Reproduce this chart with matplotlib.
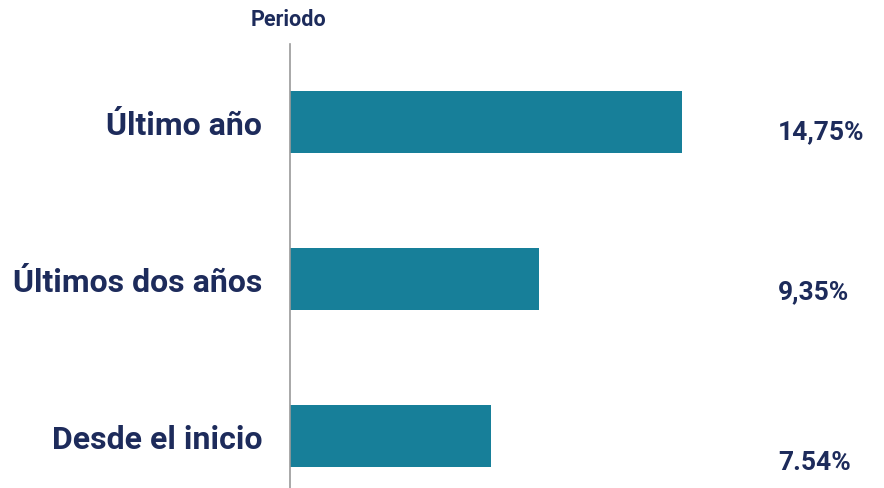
import matplotlib.pyplot as plt

# data
periods = ["Último año", "Últimos dos años", "Desde el inicio"]
returns = [14.75, 9.35, 7.54]
value_labels = ["14,75%", "9,35%", "7.54%"]
label_drop = [9, 12, 26]  # px the value labels sit below the bar centre

navy = "#1d2b5b"
teal = "#177f99"

plt.rcParams["font.family"] = ["Roboto", "DejaVu Sans"]

fig = plt.figure(figsize=(8.84, 4.89), dpi=100)
ax = fig.add_axes([290 / 884, 0, 594 / 884, 444 / 489])

ypos = range(len(periods))
ax.barh(ypos, returns, height=0.395, color=teal)

ax.set_xlim(0, 594 / 26.6)
ax.set_ylim(2.33, -0.497)

ax.set_yticks(list(ypos))
ax.set_yticklabels(periods, fontsize=23, fontweight="bold", color=navy)
ax.tick_params(axis="y", length=0, pad=20)
ax.set_xticks([])

for s in ["top", "right", "bottom"]:
    ax.spines[s].set_visible(False)
ax.spines["left"].set_color("#9a9a9a")
ax.spines["left"].set_linewidth(1.2)

for y, txt, d in zip(ypos, value_labels, label_drop):
    ax.annotate(txt, xy=(488 / 26.6, y), xytext=(0, -d), textcoords="offset pixels",
                ha="left", va="center", fontsize=19, fontweight="bold", color=navy)

fig.text(289 / 884, 1 - 20 / 489, "Periodo", ha="center", va="center",
         fontsize=15.5, fontweight="bold", color=navy)

fig.savefig("out.png", dpi=100)
